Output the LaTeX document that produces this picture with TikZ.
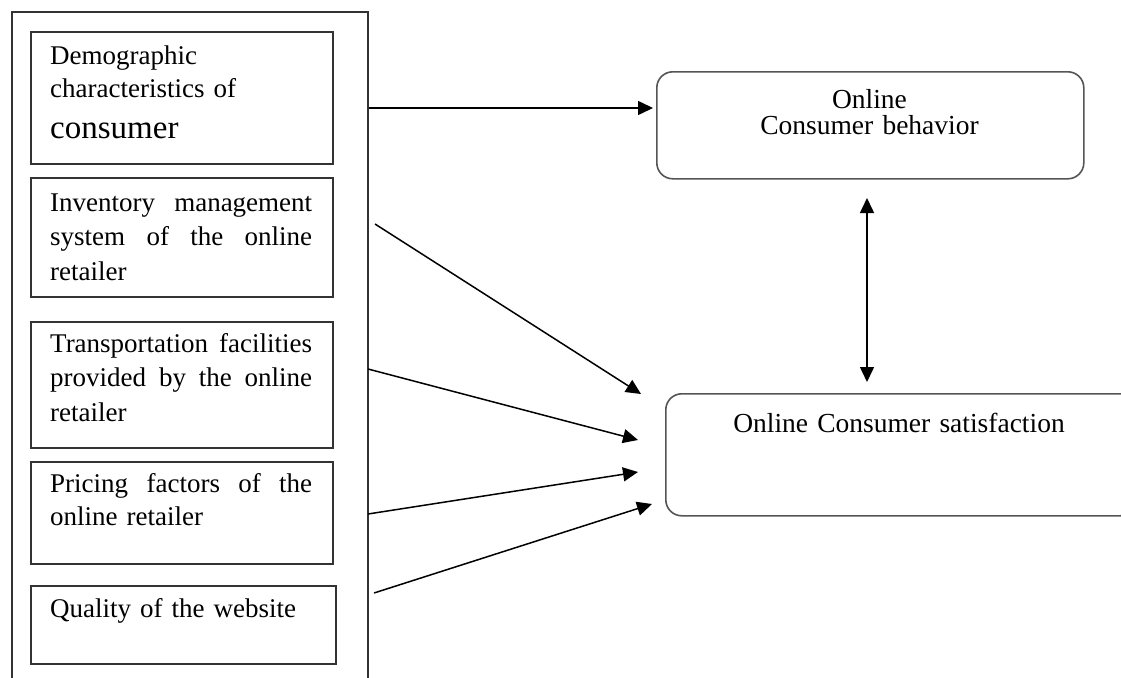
\documentclass[tikz,border=0pt]{standalone}
\usepackage{fontspec}
\setmainfont{Liberation Serif}
\usetikzlibrary{arrows.meta}
\definecolor{boxline}{HTML}{333333}
\definecolor{rline}{HTML}{555555}
\newcommand\justline[1]{\leavevmode\hbox to 262pt{#1}}
\begin{document}
\begin{tikzpicture}[x=1pt,y=-1pt,
  outerbox/.style={draw=boxline, line width=1.6pt, rectangle, anchor=north west, inner sep=0pt},
  inbox/.style={draw=boxline, line width=1.8pt, rectangle, anchor=north west, inner sep=0pt, minimum width=302pt},
  rbox/.style={draw=rline, line width=1.6pt, rounded corners=16pt, rectangle, anchor=north west, inner sep=0pt},
  ltext/.style={anchor=base west, inner sep=0pt, text width=262pt, align=left, font=\fontsize{27}{34.5}\selectfont},
  rtext/.style={anchor=base, inner sep=0pt, text width=420pt, align=center, font=\fontsize{27.5}{26}\selectfont},
  conn/.style={draw=black, line width=1.5pt, -{Triangle[length=15pt,width=14pt]}},
  dconn/.style={draw=black, line width=1.5pt, {Triangle[length=15pt,width=14pt]}-{Triangle[length=15pt,width=14pt]}}
]
\useasboundingbox (0,0) rectangle (1121,677);

% outer frame of the factors
\node[outerbox, minimum width=356pt, minimum height=700pt] (outer) at (11,11) {};

% factor boxes
\node[inbox, minimum height=132pt] (b1) at (30,31) {};
\node[inbox, minimum height=119pt] (b2) at (30,177) {};
\node[inbox, minimum height=126pt] (b3) at (30,321) {};
\node[inbox, minimum height=102pt] (b4) at (30,461) {};
\node[inbox, minimum width=305pt, minimum height=78pt] (b5) at (30,585) {};

\node[ltext, font=\fontsize{27}{33}\selectfont] (t1) at (50,64) {Demographic\\characteristics of\\[8pt]{\fontsize{33}{33}\selectfont consumer}};
\node[ltext] (t2) at (50,211) {\justline{Inventory\hfill management}\\\justline{system\hfill of\hfill the\hfill online}\\retailer};
\node[ltext] (t3) at (50,352) {\justline{Transportation\hfill facilities}\\\justline{provided\hfill by\hfill the\hfill online}\\retailer};
\node[ltext, font=\fontsize{27}{33.5}\selectfont] (t4) at (50,492) {\justline{Pricing\hfill factors\hfill of\hfill the}\\online retailer};
\node[ltext] (t5) at (50,617) {Quality of the website};

% outcome boxes
\node[rbox, minimum width=427pt, minimum height=107pt] (beh) at (656,71) {};
\node[rbox, minimum width=470pt, minimum height=122pt] (sat) at (665,393) {};
\node[rtext] (tbeh) at (869.5,108) {Online\\Consumer behavior};
\node[rtext] (tsat) at (899,432) {Online Consumer satisfaction};

% connector end points
\coordinate (e0) at (653,108);
\coordinate (s1) at (375,224);
\coordinate (e1) at (641,394);
\coordinate (s2) at (368,369);
\coordinate (e2) at (638,440);
\coordinate (s3) at (368,514);
\coordinate (e3) at (638,472);
\coordinate (s4) at (374,593);
\coordinate (e4) at (652,504);
\coordinate (d1) at (867,198);
\coordinate (d2) at (867,382);

\draw[conn] (outer.east |- e0) -- (e0);
\draw[conn] (s1) -- (e1);
\draw[conn] (s2) -- (e2);
\draw[conn] (s3) -- (e3);
\draw[conn] (s4) -- (e4);
\draw[dconn] (d1) -- (d2);
\end{tikzpicture}
\end{document}
